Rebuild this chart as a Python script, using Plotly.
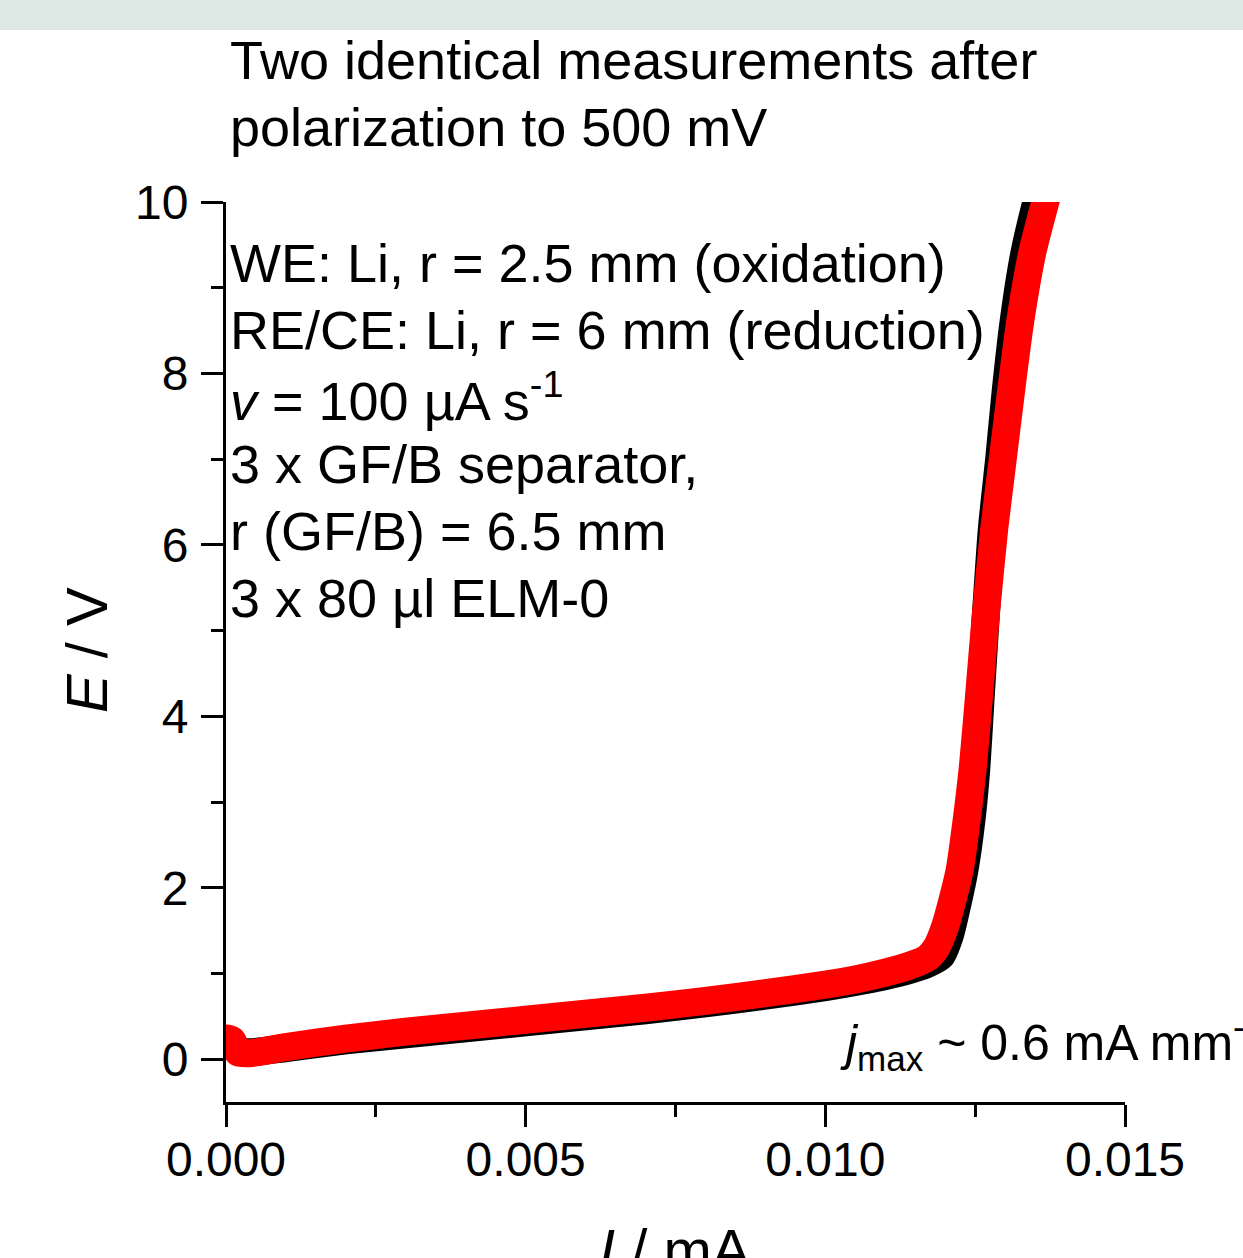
import plotly.graph_objects as go

# ---- data ----
I_black = [0.0, 0.0, 0.00010, 0.00020, 0.0004, 0.001, 0.002, 0.003, 0.004, 0.005,
           0.006, 0.007, 0.008, 0.009, 0.010, 0.0105, 0.011, 0.0114, 0.0117,
           0.01193, 0.01208, 0.01220, 0.01232, 0.01244, 0.01252, 0.01259, 0.01268,
           0.01278, 0.01290, 0.01301, 0.01314, 0.01332, 0.01352, 0.01375]
E_black = [0.02, 0.22, 0.21, 0.09, 0.08, 0.13, 0.22, 0.29, 0.36, 0.43,
           0.50, 0.57, 0.65, 0.74, 0.84, 0.90, 0.97, 1.04, 1.11,
           1.20, 1.45, 1.80, 2.20, 2.80, 3.40, 4.20, 5.20,
           6.20, 7.00, 7.80, 8.60, 9.40, 10.0, 10.6]

I_red = [0.0, 0.0, 0.00010, 0.00020, 0.0004, 0.001, 0.002, 0.003, 0.004, 0.005,
         0.006, 0.007, 0.008, 0.009, 0.010, 0.0105, 0.011, 0.0114, 0.0117,
         0.01185, 0.01200, 0.01212, 0.01224, 0.01236, 0.01246, 0.01256, 0.01268,
         0.01282, 0.01296, 0.01310, 0.01325, 0.01345, 0.01367, 0.0139]
E_red = [0.0, 0.24, 0.22, 0.08, 0.07, 0.14, 0.24, 0.32, 0.39, 0.46,
         0.53, 0.60, 0.68, 0.77, 0.87, 0.93, 1.01, 1.09, 1.18,
         1.30, 1.55, 1.85, 2.20, 2.80, 3.40, 4.20, 5.20,
         6.20, 7.00, 7.80, 8.60, 9.40, 10.0, 10.6]

title_lines = ["Two identical measurements after", "polarization to 500 mV"]
info_lines = [
    "WE: Li, r = 2.5 mm (oxidation)",
    "RE/CE: Li, r = 6 mm (reduction)",
    "<i>v</i> = 100 µA s<sup>-1</sup>",
    "3 x GF/B separator,",
    "r (GF/B) = 6.5 mm",
    "3 x 80 µl ELM-0",
]
jmax_text = "<i>j</i><sub>max</sub> ~ 0.6 mA mm<sup>-2</sup>"

x_range = [0, 0.015]
y_range = [-0.5, 10]
x_ticks = [0.000, 0.005, 0.010, 0.015]
y_ticks = [0, 2, 4, 6, 8, 10]

# ---- layout geometry (pixels) ----
W, H = 1243, 1258
L, R, T, B = 226, 118, 202, 156
pw, ph = W - L - R, H - T - B

def px(xp):
    return (xp - L) / pw

def py(yp):
    return (H - B - yp) / ph

FONT = "Liberation Sans, Arial, sans-serif"

fig = go.Figure()
fig.add_trace(go.Scatter(x=I_black, y=E_black, mode="lines",
                         line=dict(color="#000000", width=28, shape="spline", smoothing=0.6),
                         showlegend=False))
fig.add_trace(go.Scatter(x=I_red, y=E_red, mode="lines",
                         line=dict(color="#ff0000", width=28, shape="spline", smoothing=0.6),
                         showlegend=False))

axis_common = dict(showgrid=False, zeroline=False, showline=True, linecolor="black",
                   linewidth=3, ticks="outside", ticklen=22, tickwidth=3, tickcolor="black",
                   tickfont=dict(family=FONT, size=48, color="black"))

fig.update_xaxes(range=x_range, tickvals=x_ticks, tickformat=".3f", ticklabelstandoff=-9,
                 minor=dict(dtick=0.0025, ticklen=12, tickwidth=3, tickcolor="black",
                            ticks="outside"),
                 **axis_common)
fig.update_yaxes(range=y_range, tickvals=y_ticks, ticklabelstandoff=3,
                 minor=dict(dtick=1, ticklen=12, tickwidth=3, tickcolor="black",
                            ticks="outside"),
                 **axis_common)

annotations = []
title_centers = [60, 127]
for txt, yc in zip(title_lines, title_centers):
    annotations.append(dict(text=txt, x=px(228), y=py(yc), xref="paper", yref="paper",
                            xanchor="left", yanchor="middle", showarrow=False,
                            font=dict(family=FONT, size=54, color="black")))
info_centers = [263, 330, 397, 464, 531, 598]
for txt, yc in zip(info_lines, info_centers):
    annotations.append(dict(text=txt, x=px(228), y=py(yc), xref="paper", yref="paper",
                            xanchor="left", yanchor="middle", showarrow=False,
                            font=dict(family=FONT, size=54, color="black")))
annotations.append(dict(text=jmax_text, x=px(838), y=py(1042), xref="paper", yref="paper",
                        xanchor="left", yanchor="middle", showarrow=False,
                        font=dict(family=FONT, size=50, color="black")))
annotations.append(dict(text="<i>E</i> / V", x=px(86), y=py(650), xref="paper", yref="paper",
                        xanchor="center", yanchor="middle", textangle=-90, showarrow=False,
                        font=dict(family=FONT, size=58, color="black")))
annotations.append(dict(text="<i>I</i> / mA", x=px(675), y=py(1215), xref="paper", yref="paper",
                        xanchor="center", yanchor="top", showarrow=False,
                        font=dict(family=FONT, size=58, color="black")))

shapes = [dict(type="rect", xref="paper", yref="paper", x0=px(-5), x1=px(W + 5),
               y0=py(30), y1=py(-5), fillcolor="#dde8e5", line=dict(width=0), layer="below")]

fig.update_layout(width=W, height=H, margin=dict(l=L, r=R, t=T, b=B, pad=0),
                  paper_bgcolor="white", plot_bgcolor="white",
                  annotations=annotations, shapes=shapes,
                  font=dict(family=FONT, color="black"))

fig.write_html("out.html")
